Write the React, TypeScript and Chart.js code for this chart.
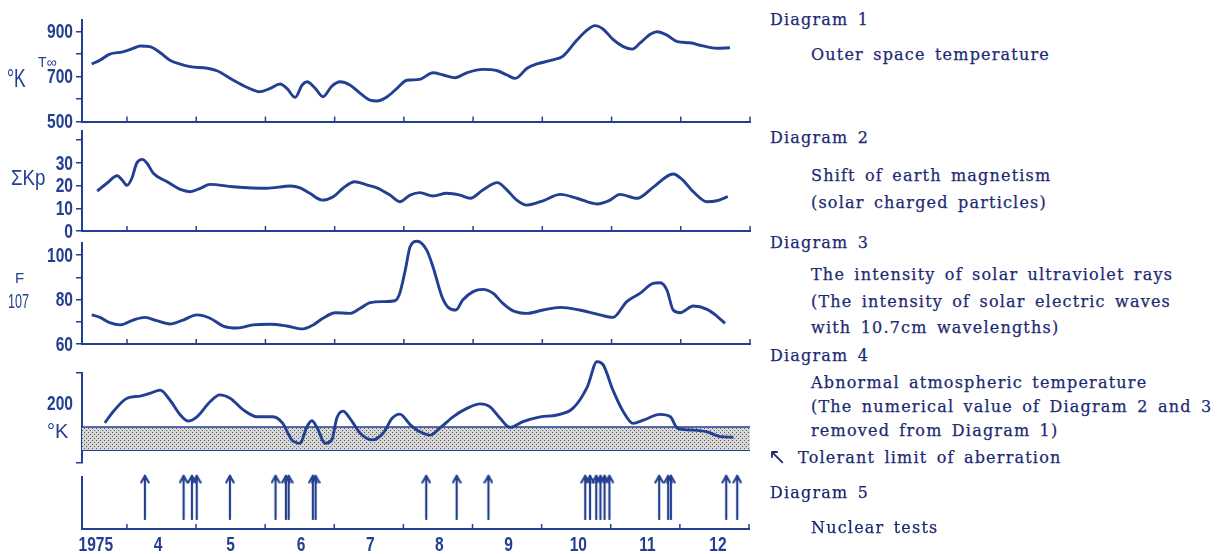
import React, { useEffect, useRef } from "react";
import { Chart, registerables } from "chart.js";
Chart.register(...registerables);

const NAVY = "#233f91";
const INK = "#1c2a72";
const SANS = "'Liberation Sans', Arial, sans-serif";
const SERIF = "'DejaVu Serif', 'Liberation Serif', serif";
const LABEL_FONT = "bold 21px 'Liberation Sans', Arial, sans-serif";
const LABEL_SQUEEZE = 0.74;

// x axis: months of 1975 (4 = 1 April, 13 = 1 January 1976)
const X_MIN = 3.35;
const X_MAX = 13;
const monthTicks = [4, 5, 6, 7, 8, 9, 10, 11, 12, 13];
const monthLabels = ["1975", "4", "5", "6", "7", "8", "9", "10", "11", "12"];
const monthLabelPos = [3.55, 4.45, 5.5, 6.52, 7.52, 8.52, 9.52, 10.53, 11.53, 12.55];

// Diagram 1: outer space temperature (°K)
const d1Months = [3.49, 3.61, 3.75, 3.94, 4.09, 4.19, 4.33, 4.48, 4.62, 4.77, 4.91, 5.16, 5.3, 5.53, 5.73, 5.92, 6.07, 6.21, 6.31, 6.43, 6.53, 6.6, 6.72, 6.83, 6.96, 7.08, 7.22, 7.37, 7.51, 7.61, 7.76, 7.9, 8.02, 8.09, 8.23, 8.42, 8.57, 8.74, 8.91, 9.14, 9.35, 9.49, 9.61, 9.78, 9.92, 10.15, 10.3, 10.5, 10.65, 10.76, 10.88, 11.02, 11.17, 11.3, 11.41, 11.56, 11.66, 11.8, 11.95, 12.13, 12.32, 12.52, 12.71];
const d1Temp = [755, 772, 799, 809, 824, 835, 832, 805, 772, 754, 743, 736, 725, 684, 652, 632, 647, 666, 647, 607, 662, 676, 647, 610, 657, 676, 662, 625, 595, 591, 610, 647, 680, 684, 687, 716, 706, 694, 716, 731, 725, 706, 691, 736, 755, 773, 790, 861, 906, 925, 909, 864, 832, 821, 847, 887, 898, 883, 854, 849, 835, 825, 827];
const d1Ticks = [500, 600, 700, 800, 900];
const d1Labels = [500, 700, 900];

// Diagram 2: ΣKp
const d2Months = [3.57, 3.71, 3.86, 3.93, 4.0, 4.07, 4.14, 4.22, 4.29, 4.38, 4.58, 4.77, 4.91, 5.06, 5.2, 5.53, 6.02, 6.36, 6.5, 6.64, 6.82, 6.98, 7.12, 7.29, 7.47, 7.61, 7.8, 7.94, 8.09, 8.23, 8.42, 8.62, 8.81, 8.96, 9.14, 9.35, 9.49, 9.63, 9.78, 10.01, 10.26, 10.5, 10.79, 10.98, 11.12, 11.37, 11.6, 11.89, 12.03, 12.18, 12.38, 12.52, 12.68];
const d2Kp = [17.6, 21, 24.3, 22.4, 20.1, 23.2, 29.8, 31.5, 29.8, 25.4, 21.7, 18.3, 17.3, 18.8, 20.5, 19.5, 18.8, 19.8, 19, 16.6, 13.6, 15.1, 18.8, 21.7, 20.2, 19, 15.8, 12.9, 15.8, 16.9, 15.4, 16.6, 15.8, 14.4, 18, 21.3, 18, 13.6, 11.4, 13.3, 16.1, 14.4, 11.9, 13.6, 16.1, 14.4, 19.2, 25.1, 22.4, 17.3, 12.9, 13.3, 15.1];
const d2Ticks = [0, 10, 20, 30, 40];
const d2Labels = [0, 10, 20, 30];

// Diagram 3: F10.7
const d3Months = [3.49, 3.61, 3.75, 3.9, 4.09, 4.26, 4.43, 4.62, 4.81, 5.01, 5.2, 5.39, 5.59, 5.82, 6.07, 6.31, 6.54, 6.69, 6.83, 7.01, 7.22, 7.37, 7.51, 7.7, 7.87, 7.94, 8.02, 8.09, 8.19, 8.33, 8.42, 8.55, 8.64, 8.75, 8.85, 9.0, 9.14, 9.29, 9.43, 9.58, 9.78, 10.01, 10.26, 10.54, 10.83, 11.02, 11.22, 11.41, 11.6, 11.7, 11.8, 11.89, 11.99, 12.18, 12.38, 12.52, 12.64];
const d3Flux = [73.1, 72, 69.6, 68.6, 70.8, 72, 70.5, 69, 70.8, 73.1, 71.6, 68.1, 67.2, 68.6, 68.9, 68.1, 66.8, 68.6, 71.6, 74.1, 73.8, 76.1, 78.6, 79.1, 79.5, 82.8, 93.3, 103.8, 106.3, 102.3, 94.8, 81.3, 76.5, 75.3, 79.8, 83.6, 84.6, 82.8, 78.3, 74.9, 73.8, 75.3, 76.5, 75.3, 73.1, 72, 79.1, 82.8, 87.3, 87.6, 84.3, 75.3, 74.1, 77.1, 75.6, 72.6, 69.3];
const d3Ticks = [60, 70, 80, 90, 100];
const d3Labels = [60, 80, 100];

// Diagram 4: abnormal atmospheric temperature
const d4Months = [3.68, 3.8, 4.0, 4.19, 4.33, 4.48, 4.62, 4.77, 4.88, 5.01, 5.2, 5.34, 5.49, 5.68, 5.88, 6.11, 6.25, 6.38, 6.5, 6.6, 6.67, 6.75, 6.86, 6.96, 7.03, 7.12, 7.22, 7.37, 7.54, 7.7, 7.83, 7.94, 8.09, 8.23, 8.38, 8.52, 8.71, 8.91, 9.1, 9.24, 9.39, 9.53, 9.72, 9.97, 10.21, 10.44, 10.65, 10.79, 10.88, 11.02, 11.17, 11.31, 11.46, 11.7, 11.85, 11.95, 12.13, 12.38, 12.57, 12.76];
const d4Temp = [134, 171, 216, 223, 232, 243, 210, 160, 140, 154, 204, 227, 216, 177, 154, 154, 132, 77, 66, 121, 141, 116, 66, 77, 149, 173, 149, 99, 77, 99, 149, 163, 128, 104, 93, 116, 154, 182, 197, 188, 149, 119, 138, 154, 160, 182, 254, 338, 327, 243, 171, 132, 143, 162, 154, 116, 110, 104, 88, 86];
const d4Ticks = [0, 300];
const d4Labels = [200];
const bandLow = 43;
const bandHigh = 120;
const bandStart = 3.35;
const bandEnd = 13;

// Diagram 5: nuclear tests (dates as month fractions)
const nuclearTests = [4.26, 4.82, 4.94, 5.01, 5.49, 6.15, 6.3, 6.34, 6.69, 6.73, 8.33, 8.77, 9.23, 10.63, 10.7, 10.79, 10.85, 10.91, 10.98, 11.7, 11.83, 11.87, 12.67, 12.83];
const arrowLevel = 0.62;

function drawSqueezed(ctx: CanvasRenderingContext2D, text: string, x: number, y: number, align: CanvasTextAlign) {
  ctx.save();
  ctx.translate(x, y);
  ctx.scale(LABEL_SQUEEZE, 1);
  ctx.font = LABEL_FONT;
  ctx.fillStyle = NAVY;
  ctx.textAlign = align;
  ctx.textBaseline = "middle";
  ctx.fillText(text, 0, 1);
  ctx.restore();
}

// tick labels drawn from the y scale, in a condensed face
function yLabelPlugin(values: number[]) {
  return {
    id: "yLabels",
    afterDraw(chart: any) {
      const s = chart.scales.y;
      for (const v of values) {
        drawSqueezed(chart.ctx, String(v), chart.chartArea.left - 9, s.getPixelForValue(v), "right");
      }
    },
  };
}

const xLabelPlugin = {
  id: "xLabels",
  afterDraw(chart: any) {
    const s = chart.scales.x;
    monthLabelPos.forEach((v, i) => {
      drawSqueezed(chart.ctx, monthLabels[i], s.getPixelForValue(v), chart.chartArea.bottom + 15, "center");
    });
  },
};

const innerTicks = {
  id: "innerTicks",
  afterDatasetsDraw(chart: any) {
    const { ctx, chartArea, scales } = chart;
    ctx.save();
    ctx.strokeStyle = NAVY;
    ctx.lineWidth = 1.5;
    for (const v of monthTicks) {
      const px = scales.x.getPixelForValue(v);
      ctx.beginPath();
      ctx.moveTo(px, chartArea.bottom);
      ctx.lineTo(px, chartArea.bottom - 5);
      ctx.stroke();
    }
    ctx.restore();
  },
};

function yAxis(min: number, max: number, ticks: number[]) {
  return {
    type: "linear",
    min,
    max,
    afterBuildTicks: (s: any) => {
      s.ticks = ticks.map((v) => ({ value: v }));
    },
    afterFit: (s: any) => {
      s.width = 82;
    },
    ticks: { display: false },
    grid: {
      display: true,
      drawOnChartArea: false,
      drawTicks: true,
      tickLength: 6,
      lineWidth: 1.5,
      color: NAVY,
      tickColor: NAVY,
    },
    border: { display: true, color: NAVY, width: 2 },
  };
}

function xHidden(border: boolean) {
  return {
    type: "linear",
    min: X_MIN,
    max: X_MAX,
    ticks: { display: false },
    grid: { display: false },
    border: { display: border, color: NAVY, width: 2 },
    afterFit: (s: any) => {
      s.height = 0;
    },
  };
}

function lineSet(xs: number[], ys: number[]) {
  return {
    data: xs.map((x, i) => ({ x, y: ys[i] })),
    borderColor: NAVY,
    borderWidth: 2.9,
    pointRadius: 0,
    cubicInterpolationMode: "monotone",
    fill: false,
    clip: false,
    order: 1,
  };
}

function baseOptions(padTop: number, padBottom: number, scales: any) {
  return {
    responsive: false,
    maintainAspectRatio: false,
    animation: false,
    events: [],
    layout: { padding: { top: padTop, bottom: padBottom, left: 0, right: 10 } },
    plugins: { legend: { display: false }, tooltip: { enabled: false } },
    scales,
  };
}

function makeArrow(): HTMLCanvasElement {
  const c = document.createElement("canvas");
  c.width = 10;
  c.height = 46;
  const g = c.getContext("2d")!;
  g.strokeStyle = NAVY;
  g.lineWidth = 2.2;
  g.lineCap = "round";
  g.lineJoin = "round";
  g.beginPath();
  g.moveTo(5, 2);
  g.lineTo(5, 45);
  g.stroke();
  g.beginPath();
  g.moveTo(1.3, 8.5);
  g.lineTo(5, 2);
  g.lineTo(8.7, 8.5);
  g.stroke();
  return c;
}

function makePattern(ctx: CanvasRenderingContext2D): CanvasPattern | string {
  const t = document.createElement("canvas");
  t.width = 4;
  t.height = 4;
  const g = t.getContext("2d")!;
  g.fillStyle = "#d6d6d6";
  g.fillRect(0, 0, 4, 4);
  g.fillStyle = "#5a5a5a";
  g.fillRect(0, 0, 1, 1);
  g.fillRect(2, 2, 1, 1);
  return ctx.createPattern(t, "repeat") || "#c8c8c8";
}

const panels = [
  { top: 0, height: 132 },
  { top: 124, height: 117 },
  { top: 234, height: 120 },
  { top: 356, height: 117 },
  { top: 466, height: 88 },
];

const rightText: { x: number; y: number; t: string }[] = [
  { x: 770, y: 20, t: "Diagram 1" },
  { x: 811, y: 55, t: "Outer space temperature" },
  { x: 770, y: 138, t: "Diagram 2" },
  { x: 811, y: 176, t: "Shift of earth magnetism" },
  { x: 811, y: 203, t: "(solar charged particles)" },
  { x: 770, y: 243, t: "Diagram 3" },
  { x: 811, y: 275, t: "The intensity of solar ultraviolet rays" },
  { x: 811, y: 302, t: "(The intensity of solar electric waves" },
  { x: 811, y: 328, t: "with 10.7cm wavelengths)" },
  { x: 770, y: 356, t: "Diagram 4" },
  { x: 811, y: 383, t: "Abnormal atmospheric temperature" },
  { x: 811, y: 407, t: "(The numerical value of Diagram 2 and 3" },
  { x: 811, y: 431, t: "removed from Diagram 1)" },
  { x: 798, y: 458, t: "Tolerant limit of aberration" },
  { x: 770, y: 493, t: "Diagram 5" },
  { x: 811, y: 528, t: "Nuclear tests" },
];

export default function App() {
  const refs = [
    useRef<HTMLCanvasElement>(null),
    useRef<HTMLCanvasElement>(null),
    useRef<HTMLCanvasElement>(null),
    useRef<HTMLCanvasElement>(null),
    useRef<HTMLCanvasElement>(null),
  ];

  useEffect(() => {
    const charts: Chart[] = [];
    const c = refs.map((r) => r.current!);

    charts.push(
      new Chart(c[0], {
        type: "line",
        data: { datasets: [lineSet(d1Months, d1Temp)] } as any,
        options: baseOptions(20, 10.5, {
          x: xHidden(true),
          y: yAxis(500, 950, d1Ticks),
        }) as any,
        plugins: [innerTicks, yLabelPlugin(d1Labels)],
      })
    );

    charts.push(
      new Chart(c[1], {
        type: "line",
        data: { datasets: [lineSet(d2Months, d2Kp)] } as any,
        options: baseOptions(7, 10, {
          x: xHidden(true),
          y: yAxis(0, 44, d2Ticks),
        }) as any,
        plugins: [innerTicks, yLabelPlugin(d2Labels)],
      })
    );

    charts.push(
      new Chart(c[2], {
        type: "line",
        data: { datasets: [lineSet(d3Months, d3Flux)] } as any,
        options: baseOptions(9, 10, {
          x: xHidden(true),
          y: yAxis(60, 105.5, d3Ticks),
        }) as any,
        plugins: [innerTicks, yLabelPlugin(d3Labels)],
      })
    );

    const pattern = makePattern(c[3].getContext("2d")!);
    charts.push(
      new Chart(c[3], {
        type: "line",
        data: {
          datasets: [
            {
              data: [
                { x: bandStart, y: bandLow },
                { x: bandEnd, y: bandLow },
              ],
              borderColor: NAVY,
              borderWidth: 1.6,
              pointRadius: 0,
              fill: false,
              order: 3,
            },
            {
              data: [
                { x: bandStart, y: bandHigh },
                { x: bandEnd, y: bandHigh },
              ],
              borderColor: NAVY,
              borderWidth: 1.6,
              pointRadius: 0,
              backgroundColor: pattern,
              fill: "-1",
              order: 2,
            },
            {
              data: [
                { x: bandEnd, y: bandLow },
                { x: bandEnd, y: bandHigh },
              ],
              borderColor: NAVY,
              borderWidth: 1.6,
              pointRadius: 0,
              fill: false,
              order: 2,
            },
            lineSet(d4Months, d4Temp),
          ],
        } as any,
        options: baseOptions(17, 10, {
          x: xHidden(false),
          y: yAxis(0, 300, d4Ticks),
        }) as any,
        plugins: [yLabelPlugin(d4Labels)],
      })
    );

    const arrow = makeArrow();
    charts.push(
      new Chart(c[4], {
        type: "scatter",
        data: {
          datasets: [
            {
              data: nuclearTests.map((x) => ({ x, y: arrowLevel })),
              pointStyle: arrow,
              pointRadius: 10,
              clip: false,
            },
          ],
        } as any,
        options: baseOptions(9, 0, {
          x: {
            type: "linear",
            min: X_MIN,
            max: X_MAX,
            afterFit: (s: any) => {
              s.height = 25;
            },
            ticks: { display: false },
            grid: { display: false },
            border: { display: true, color: NAVY, width: 2 },
          },
          y: {
            type: "linear",
            min: 0,
            max: 1,
            afterBuildTicks: (s: any) => {
              s.ticks = [];
            },
            afterFit: (s: any) => {
              s.width = 82;
            },
            ticks: { display: false },
            grid: { display: false },
            border: { display: true, color: NAVY, width: 2 },
          },
        }) as any,
        plugins: [innerTicks, xLabelPlugin],
      })
    );

    return () => charts.forEach((ch) => ch.destroy());
  }, []);

  const label = (left: number, top: number, size: number, sx: number, text: string) => (
    <span
      style={{
        position: "absolute",
        left,
        top,
        fontFamily: SANS,
        fontSize: size,
        color: NAVY,
        lineHeight: 1,
        whiteSpace: "nowrap",
        transform: `scaleX(${sx})`,
        transformOrigin: "left top",
      }}
    >
      {text}
    </span>
  );

  return (
    <div
      style={{
        position: "absolute",
        left: 0,
        top: 0,
        width: 1228,
        height: 554,
        background: "#ffffff",
        overflow: "hidden",
      }}
    >
      {panels.map((p, i) => (
        <canvas
          key={i}
          ref={refs[i]}
          width={760}
          height={p.height}
          style={{ position: "absolute", left: 0, top: p.top, width: 760, height: p.height }}
        />
      ))}

      {label(38, 55, 14, 1, "T∞")}
      {label(7, 66, 25, 0.7, "°K")}
      {label(11, 167, 22, 0.85, "ΣKp")}
      {label(15, 270, 15, 1, "F")}
      {label(8, 290, 21, 0.6, "107")}
      {label(47, 420, 21, 0.95, "°K")}

      {rightText.map((r, i) => (
        <div
          key={i}
          style={{
            position: "absolute",
            left: r.x,
            top: r.y - 10,
            fontFamily: SERIF,
            fontSize: 16,
            letterSpacing: 1.2,
            wordSpacing: 3,
            color: INK,
            lineHeight: "20px",
            whiteSpace: "nowrap",
            WebkitTextStroke: "0.25px " + INK,
          }}
        >
          {r.t}
        </div>
      ))}
      <div
        style={{
          position: "absolute",
          left: 768,
          top: 445,
          fontFamily: SANS,
          fontSize: 22,
          lineHeight: "24px",
          color: INK,
        }}
      >
        ↖
      </div>
    </div>
  );
}
